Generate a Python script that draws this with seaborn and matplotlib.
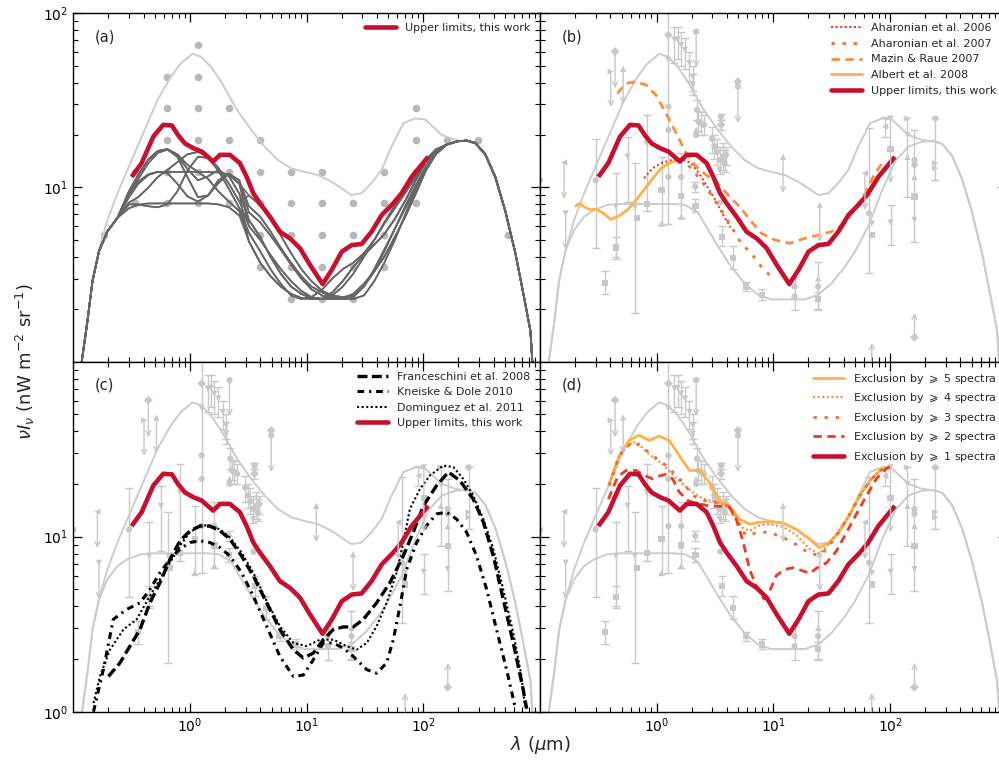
import numpy as np
import pandas as pd
import matplotlib
matplotlib.use('Agg')
import matplotlib.pyplot as plt
import seaborn as sns
from matplotlib.ticker import FixedLocator, LogLocator, LogFormatterSciNotation, NullFormatter
from matplotlib.lines import Line2D

sns.set_style('ticks')
plt.rcParams['font.family'] = ['DejaVu Sans']
plt.rcParams['mathtext.fontset'] = 'dejavusans'

# ---------------- data ----------------
# upper limits (this work)
red_lam = [0.316, 0.385, 0.485, 0.59, 0.70, 0.79, 0.906, 1.07, 1.26, 1.58, 1.81, 2.2, 2.68, 3.06,
           3.49, 3.98, 4.85, 5.9, 7.2, 8.77, 10.7, 13.7, 16.4, 20, 24.3, 29.6, 36, 44, 55.2, 65.2, 79.4, 110]
red_val = [11.5, 13.8, 19.6, 22.9, 22.7, 20.0, 17.9, 16.8, 16.1, 14.1, 15.4, 15.4, 13.8, 11.5,
           9.27, 8.11, 6.79, 5.57, 5.1, 4.48, 3.59, 2.79, 3.36, 4.28, 4.67, 4.74, 5.57, 6.95, 8.11, 9.27, 11.5, 15.0]

# envelopes
env_up_lam = [0.119, 0.132, 0.146, 0.166, 0.196, 0.239, 0.291, 0.355, 0.433, 0.527, 0.686, 0.836, 1.05, 1.24,
              1.51, 1.85, 2.25, 2.57, 3.35, 4.35, 5.67, 7.38, 9.6, 12.5, 16.3, 19.9, 24.2, 29.5, 36, 43.8,
              53.5, 67.4, 84.9, 103.5, 144, 187, 244, 280, 340, 414, 505, 615, 725, 828, 860]
env_up_val = [1.0, 1.66, 2.94, 4.4, 6.5, 9.27, 12.6, 17.2, 23.4, 31.8, 43.3, 51.6, 58.5, 56.4,
              49.4, 40.5, 32.0, 27.5, 21.4, 17.2, 14.4, 12.9, 12.3, 11.8, 10.8, 9.9, 9.06, 9.26, 10.6, 12.6,
              17.2, 23.4, 24.9, 24.6, 20.0, 18.8, 18.3, 17.8, 15.2, 11.2, 7.2, 4.2, 2.4, 1.5, 1.0]
env_lo_lam = [0.119, 0.132, 0.146, 0.166, 0.196, 0.239, 0.291, 0.379, 0.49, 0.715, 1.0, 1.38, 1.76, 2.25,
              2.57, 3.35, 4.35, 5.67, 7.38, 9.6, 12.5, 18.6, 24.2, 31.6, 41, 50.2, 65.2, 84.8, 111, 144,
              187, 236, 280, 340, 414, 505, 615, 725, 828, 860]
env_lo_val = [1.0, 1.66, 2.94, 4.38, 5.70, 6.81, 7.43, 7.94, 8.04, 8.04, 8.04, 8.04, 7.94, 7.2,
              6.2, 4.6, 3.5, 2.82, 2.42, 2.28, 2.28, 2.28, 2.42, 2.82, 3.5, 4.3, 6.0, 9.5, 14.2, 17.2,
              18.3, 18.5, 17.8, 15.2, 11.2, 7.2, 4.2, 2.4, 1.5, 1.0]

# panel (a): grid of test points
grid_lam = [0.185, 0.34, 0.63, 1.17, 2.16, 4.0, 7.35, 13.6, 25.1, 46.3, 86, 158, 292, 535]
grid_rows = [[5.34], [8.11, 12.3], [8.11, 12.3, 18.7, 28.5, 43.3], [8.11, 12.3, 18.7, 28.5, 43.3, 65.8],
             [8.11, 12.3, 18.7, 28.5], [3.51, 5.34, 8.11, 12.3, 18.7], [2.29, 3.51, 5.34, 8.11, 12.3],
             [2.29, 3.51, 5.34, 8.11, 12.3], [2.29, 3.51, 5.34, 8.11], [3.51, 5.34, 8.11, 12.3],
             [8.11, 12.3, 18.7, 28.5], [18.7], [18.7], [5.34]]

# panel (a): family of test EBL shapes (shared ends + NIR / MIR variants)
dark_left_lam = [0.118, 0.132, 0.146, 0.166, 0.196, 0.239]
dark_left_val = [1.0, 1.7, 2.9, 4.3, 5.6, 6.7]
nir_lam = [0.30, 0.36, 0.44, 0.53, 0.64, 0.78, 0.95, 1.17, 1.43, 1.75, 2.16, 2.65]
nir_variants = [
    [7.6, 7.95, 8.1, 8.1, 8.1, 8.1, 8.1, 8.1, 8.1, 8.0, 7.7, 6.9],
    [9.0, 10.8, 11.9, 12.3, 12.3, 12.3, 12.3, 12.3, 12.3, 12.2, 11.8, 10.5],
    [9.5, 11.8, 14.5, 16.2, 16.6, 15.0, 11.5, 8.8, 9.0, 11.0, 12.0, 10.5],
    [9.5, 11.8, 14.5, 16.2, 16.6, 15.5, 13.5, 12.3, 11.2, 9.5, 8.3, 7.3],
    [8.0, 8.0, 7.8, 7.7, 8.0, 9.5, 12.5, 15.0, 14.8, 12.5, 9.8, 7.6],
    [8.8, 10.5, 11.8, 12.3, 12.1, 10.5, 8.9, 8.3, 9.0, 10.6, 12.0, 11.0],
    [8.2, 8.8, 10.0, 11.5, 12.6, 14.0, 15.5, 16.0, 15.0, 13.0, 10.5, 8.3],
    [9.2, 11.2, 13.8, 15.8, 16.5, 15.2, 12.8, 11.0, 11.6, 12.6, 11.6, 9.2],
]
mir_lam = [3.2, 4.0, 4.9, 6.0, 7.35, 9.0, 11.0, 13.6, 16.6, 20.4, 25.1, 31, 38, 46.3, 57, 70, 86, 105, 128]
mir_variants = [
    [4.9, 3.7, 3.1, 2.7, 2.45, 2.32, 2.29, 2.29, 2.29, 2.31, 2.45, 2.8, 3.3, 4.0, 5.2, 6.8, 9.2, 12.5, 15.5],
    [6.0, 5.0, 4.1, 3.4, 2.9, 2.55, 2.35, 2.29, 2.4, 2.7, 3.2, 4.0, 5.0, 6.2, 7.6, 9.3, 11.5, 14.0, 16.3],
    [5.5, 4.3, 3.4, 2.8, 2.4, 2.29, 2.35, 2.6, 3.0, 3.4, 3.7, 4.2, 5.0, 6.3, 7.9, 9.8, 12.0, 14.5, 16.5],
    [7.2, 6.3, 5.3, 4.4, 3.6, 3.0, 2.6, 2.4, 2.3, 2.29, 2.35, 2.7, 3.4, 4.4, 5.8, 7.6, 10.0, 13.0, 15.8],
    [6.5, 5.2, 4.0, 3.2, 2.7, 2.45, 2.32, 2.29, 2.5, 2.9, 3.5, 4.1, 4.7, 5.4, 6.6, 8.4, 11.0, 14.0, 16.5],
    [7.8, 6.8, 5.6, 4.5, 3.7, 3.1, 2.7, 2.5, 2.35, 2.29, 2.29, 2.4, 2.9, 3.7, 5.0, 7.0, 9.8, 13.0, 15.8],
    [9.0, 7.9, 6.6, 5.3, 4.2, 3.4, 2.9, 2.55, 2.4, 2.35, 2.4, 2.7, 3.3, 4.3, 5.8, 7.8, 10.3, 13.2, 16.0],
]
dark_right_lam = [158, 195, 236, 280, 340, 414, 505, 615, 725, 828, 860]
dark_right_val = [17.6, 18.4, 18.6, 18.0, 15.5, 11.5, 7.3, 4.2, 2.4, 1.5, 1.0]
dark_pairs = [(0, 0), (1, 6), (2, 1), (3, 2), (4, 4), (5, 5), (6, 1), (1, 4), (2, 5), (3, 0),
              (4, 2), (5, 3), (0, 3), (6, 6), (7, 4), (7, 0)]

# panel (b) models
aha06_lam = [0.78, 0.92, 1.12, 1.37, 1.67, 1.97, 2.32, 2.74, 3.24, 3.69, 4.3]
aha06_val = [11.3, 12.9, 13.9, 14.4, 14.5, 13.8, 12.0, 10.0, 8.3, 7.0, 5.9]
aha07_lam = [1.6, 1.97, 2.40, 2.93, 3.57, 4.36, 5.31, 6.47, 7.89, 9.9]
aha07_val = [14.8, 12.9, 11.0, 9.06, 7.43, 5.96, 4.78, 4.19, 3.51, 3.01]
mazin_lam = [0.461, 0.545, 0.664, 0.81, 0.987, 1.2, 1.47, 1.79, 2.18, 2.66, 3.24, 4.08, 5.14, 6.69,
             7.89, 10.3, 13.8, 18.6, 24.2, 31.5, 41.0, 46.9, 61, 74.5, 87.7]
mazin_val = [34.7, 39.6, 40.5, 38.8, 33.9, 26.7, 20.5, 15.7, 13.2, 11.8, 10.8, 9.06, 7.76, 6.22,
             5.46, 5.0, 4.78, 5.11, 5.33, 5.58, 6.22, 7.11, 9.27, 12.1, 14.1]
albert_lam = [0.202, 0.219, 0.243, 0.27, 0.30, 0.343, 0.404, 0.477, 0.563, 0.686, 0.84, 1.09, 1.28, 1.56]
albert_val = [7.83, 8.1, 7.7, 7.45, 7.5, 7.2, 6.56, 6.87, 7.43, 8.67, 10.4, 12.9, 13.8, 14.4]

# panel (c) models
fra_lam = [0.20, 0.251, 0.306, 0.373, 0.454, 0.553, 0.675, 0.82, 1.0, 1.22, 1.48, 1.81, 2.2, 2.77, 3.49,
           4.54, 5.9, 7.69, 9.36, 11.4, 13.9, 16.9, 20.6, 25.1, 30.6, 39.8, 51.7, 67.3, 82, 100, 130, 164,
           206, 268, 327, 398, 484, 590, 719, 768]
fra_val = [1.59, 1.90, 2.37, 2.95, 4.19, 5.46, 7.43, 9.46, 10.8, 11.5, 11.5, 10.8, 9.68, 7.76, 5.96,
           4.19, 2.95, 2.26, 2.03, 2.16, 2.58, 2.95, 3.05, 3.05, 3.37, 4.19, 5.46, 7.76, 10.6, 15.0, 19.6, 23.4,
           20.9, 16.4, 12.1, 7.76, 4.39, 2.47, 1.33, 1.04]
kd_lam = [0.149, 0.181, 0.22, 0.286, 0.373, 0.454, 0.553, 0.675, 0.82, 1.0, 1.22, 1.48, 1.81, 2.2, 2.77,
          3.49, 4.54, 5.9, 7.69, 9.36, 11.4, 13.9, 16.9, 20.6, 25.1, 32.7, 39.8, 48.5, 55.3, 63.1, 72,
          87.7, 107, 130, 158, 193, 235, 286, 349, 424, 517, 610]
kd_val = [1.0, 1.74, 3.37, 3.84, 4.19, 5.0, 6.23, 7.43, 8.5, 9.27, 9.46, 9.27, 8.67, 7.76, 6.23,
          4.58, 3.08, 2.07, 1.59, 1.62, 1.98, 2.47, 2.47, 2.31, 2.07, 1.74, 1.66, 1.90, 2.58, 4.02, 6.52,
          9.27, 11.6, 13.5, 13.8, 12.6, 10.6, 7.76, 5.0, 2.95, 1.74, 1.07]
dom_lam = [0.149, 0.169, 0.206, 0.269, 0.349, 0.454, 0.553, 0.675, 0.82, 1.0, 1.22, 1.48, 1.81, 2.2, 2.77,
           3.49, 4.54, 5.9, 7.69, 10.0, 13.0, 16.9, 22, 26.8, 32.7, 39.8, 48.5, 59, 67.3, 76.7, 93.5, 114,
           148, 181, 220, 268, 327, 398, 484, 590, 695, 741]
dom_val = [1.12, 1.59, 2.26, 2.95, 3.37, 4.58, 5.71, 7.11, 8.87, 10.6, 11.6, 11.6, 11.0, 9.9, 8.12,
           6.23, 4.29, 3.08, 2.47, 2.37, 2.58, 2.58, 2.37, 2.26, 2.47, 3.08, 4.19, 6.23, 9.27, 14.4, 18.7, 22.4,
           25.5, 25.0, 21.4, 17.2, 12.6, 8.5, 5.0, 2.82, 1.59, 1.07]

# panel (d) exclusion curves
ex5_lam = [0.392, 0.478, 0.581, 0.708, 0.865, 1.05, 1.28, 1.56, 1.91, 2.32, 2.83, 3.45, 4.21, 5.13, 6.25,
           7.62, 9.29, 12.1, 15.8, 20.5, 24.7, 30.5, 37.1, 45.3, 55.2, 67.3, 82, 100]
ex5_val = [20.0, 29.1, 35.5, 38.0, 35.5, 37.6, 35.5, 29.1, 23.9, 23.9, 20.5, 16.1, 15.0, 12.6, 11.8,
           12.1, 12.2, 12.0, 11.0, 9.68, 8.67, 9.27, 10.8, 13.5, 17.2, 20.9, 23.9, 25.0]
ex4_lam = [0.392, 0.478, 0.62, 0.70, 0.865, 1.12, 1.47, 1.91, 2.48, 3.24, 4.08, 4.8, 5.48, 6.25, 7.62,
           9.29, 12.1, 15.8, 20.5, 24.7, 28.6, 34.8, 45.3, 55.2, 67.3, 82, 100]
ex4_val = [20.0, 29.1, 35.0, 34.0, 29.5, 26.0, 21.5, 18.5, 16.5, 15.8, 15.0, 13.0, 11.2, 10.8, 11.6,
           11.8, 11.4, 10.2, 8.5, 8.0, 8.8, 10.4, 13.5, 17.2, 20.9, 23.9, 25.0]
ex3_lam = [0.392, 0.478, 0.62, 0.757, 0.923, 1.12, 1.37, 1.67, 2.04, 2.48, 3.24, 4.08, 4.8, 5.48, 6.25,
           7.14, 9.29, 12.1, 15.8, 20.5, 24.7, 28.6, 34.8, 45.3, 55.2, 67.3, 82, 100]
ex3_val = [19.6, 29.1, 35.0, 32.5, 29.0, 26.7, 23.4, 20.5, 17.2, 16.1, 15.7, 15.0, 12.6, 10.6, 10.1,
           10.6, 10.6, 9.9, 9.0, 8.0, 7.84, 8.5, 10.1, 13.5, 17.2, 20.9, 23.9, 25.0]
ex2_lam = [0.386, 0.461, 0.545, 0.664, 0.809, 0.923, 1.09, 1.20, 1.37, 1.56, 1.85, 2.18, 2.83, 3.69, 4.21,
           4.8, 5.48, 6.25, 7.14, 8.3, 9.3, 10.6, 12.5, 14.8, 18.0, 20.5, 23.4, 28.6, 34.8, 42.4, 51.6, 63.0,
           76.7, 93.6, 100]
ex2_val = [16.4, 21.9, 23.9, 23.9, 22.2, 21.4, 22.4, 22.7, 21.4, 18.0, 16.1, 15.5, 15.0, 14.9, 14.7,
           12.6, 9.5, 6.51, 5.22, 4.4, 4.9, 6.0, 6.5, 6.65, 6.37, 6.18, 6.6, 7.1, 8.3, 10.6, 13.5, 17.2,
           21.5, 24.6, 25.0]

# EBL measurements: points with error bars (lam, value, low, high, marker)
pt_lam = [0.30, 0.361, 0.447, 0.447, 0.563, 0.65, 0.82, 1.10, 1.26, 1.42, 1.51, 1.62, 1.75, 1.91, 2.04,
          1.62, 2.04, 2.22, 2.28, 2.40, 2.54, 2.14, 2.15, 2.97, 3.13, 3.30, 3.46, 3.57, 3.57, 3.69, 3.82,
          3.94, 3.62, 4.5, 5.86, 8.04, 15.2, 24.2, 24.2, 66.0, 90.8, 101.0, 141.0, 162.0, 244.0]
pt_val = [11.0, 2.84, 7.76, 4.53, 15.0, 7.76, 17.9, 9.7, 21.4, 70.4, 70.8, 65.8, 61.6, 51.6, 43.3,
          11.5, 38.8, 27.9, 23.9, 23.4, 22.9, 10.1, 7.83, 19.1, 17.2, 16.0, 14.4, 25.5, 22.9, 15.0, 13.8,
          15.4, 5.22, 3.93, 2.70, 2.42, 2.37, 2.70, 2.28, 7.1, 22.3, 6.3, 20.0, 14.4, 13.8]
pt_lo = [4.5, 2.45, 4.0, 3.9, 8.3, 1.9, 7.3, 6.1, 6.2, 51.6, 55.0, 50.0, 48.0, 41.0, 36.0,
         6.65, 34.0, 24.5, 21.0, 20.0, 20.0, 9.4, 7.2, 15.8, 14.5, 13.5, 12.0, 24.5, 21.5, 12.6, 12.3,
         13.5, 4.6, 3.4, 2.55, 2.27, 1.98, 1.98, 2.0, 3.21, 19.5, 4.68, 8.87, 4.89, 11.0]
pt_hi = [19.1, 3.3, 12.1, 5.2, 19.6, 13.8, 26.1, 15.0, 110, 83.8, 83.8, 78.0, 72.0, 60.0, 50.0,
         15.7, 45.0, 32.0, 27.5, 27.0, 26.0, 10.8, 8.6, 22.3, 20.0, 19.0, 17.0, 26.5, 24.5, 17.9, 16.5,
         17.0, 6.0, 4.6, 2.85, 2.60, 3.07, 3.75, 2.5, 21.9, 25.5, 7.94, 24.9, 21.4, 24.9]
pt_mark = ['o', 's', 'v', 's', 'v', 'v', 'v', 's', 'o', 'v', 'v', 'v', 'v', 'v', 'v',
           'o', 'v', 'o', 'o', 'o', 'o', 'o', 's', 'o', 'o', 'o', 'o', 'o', 'D', 'o', 'o',
           'o', 's', 's', 's', 's', 'o', 'o', 's', 'o', '<', 'v', 'v', 'o', '>']

# extra measurement markers without bars
mk_lam = [0.1, 0.673, 0.82, 1.10, 1.26, 1.26, 1.26, 1.26, 1.62, 1.62, 2.18, 2.18, 3.46, 3.52, 4.97,
          15.2, 24.2, 69.7, 69.7, 101.0, 141.0, 141.0, 162.0, 162.0, 162.0, 162.0, 244.0, 244.0]
mk_val = [11.0, 6.65, 8.04, 6.2, 75.0, 54.0, 29.1, 11.5, 8.9, 6.8, 21.4, 20.0, 12.6, 8.2, 37.9,
          2.70, 3.01, 6.2, 5.33, 16.6, 24.9, 15.0, 13.5, 11.5, 8.87, 6.52, 24.9, 12.9]
mk_mark = ['o', 's', 's', '^', 'D', 'v', 'o', 'o', 's', '^', '^', 'o', 'v', 'o', 'o',
           'o', '^', 'v', 's', 's', '>', '^', 'o', '^', 's', 'v', 'o', '>']

# limits (lam, start value, arrow tip value, marker)
lim_lam = [0.161, 0.166, 0.404, 0.44, 0.516, 2.18, 4.97, 12.1, 25.0, 61.0, 69.7, 162.0, 101.0]
lim_from = [13.9, 7.1, 46.3, 60.3, 48.0, 78.5, 40.5, 15.0, 7.94, 12.1, 1.0, 1.38, 24.9]
lim_to = [8.6, 4.4, 29.0, 37.0, 30.0, 49.0, 23.4, 9.3, 4.89, 7.43, 1.28, 1.90, 10.6]
lim_mark = ['<', 'v', '>', 'D', '^', 'o', 'D', '^', '^', '<', None, 'D', 'v']

# ---------------- styles ----------------
RED = '#c8102e'
ENV = '#cccccc'
PT = '#c8c8c8'
DOT = '#b8b8b8'
DARK = '#666666'
C_AHA06 = '#f03b20'
C_AHA07 = '#f46d2a'
C_MAZIN = '#fd8d3c'
C_ALBERT = '#feb24c'
MARKERS = {m: m for m in ['o', 's', 'v', '^', 'D', '<', '>']}

ST_FINE = (0, (1, 1.2))
ST_SPARSE = (0, (1.2, 2.8))
ST_DASH = (0, (3, 2))
ST_FRA = (0, (3, 1.3))
ST_KD = (0, (2.2, 1.6, 0.7, 1.6))

fig = plt.figure(figsize=(9.99, 7.62), dpi=100)
W = 466.7 / 999
axA = fig.add_axes([73.3 / 999, 0.52533, W, 0.45722])
axB = fig.add_axes([540 / 999, 0.52533, W, 0.45722])
axC = fig.add_axes([73.3 / 999, 0.06601, W, 0.45932])
axD = fig.add_axes([540 / 999, 0.06601, W, 0.45932])


def setup(ax, row, col):
    ax.set_xscale('log')
    ax.set_yscale('log')
    ax.set_xlim(0.1, 1000)
    ax.set_ylim(1, 100)
    ax.xaxis.set_major_locator(FixedLocator([1, 10, 100]))
    ax.xaxis.set_minor_locator(LogLocator(base=10, subs=np.arange(2, 10), numticks=30))
    ax.xaxis.set_major_formatter(LogFormatterSciNotation())
    ax.xaxis.set_minor_formatter(NullFormatter())
    ax.yaxis.set_major_locator(FixedLocator([10, 100] if row == 0 else [1, 10]))
    ax.yaxis.set_minor_locator(LogLocator(base=10, subs=np.arange(2, 10), numticks=30))
    ax.yaxis.set_major_formatter(LogFormatterSciNotation())
    ax.yaxis.set_minor_formatter(NullFormatter())
    ax.tick_params(which='both', direction='in', top=True, right=True, labelsize=10, colors='black')
    ax.tick_params(which='major', length=6.5, width=0.9)
    ax.tick_params(which='minor', length=3.5, width=0.8)
    if row == 0:
        ax.tick_params(labelbottom=False)
    if col == 1:
        ax.tick_params(labelleft=False)
    for s in ax.spines.values():
        s.set_linewidth(1.0)
        s.set_color('black')


def line(ax, lam, val, **kw):
    sns.lineplot(x=lam, y=val, ax=ax, sort=False, estimator=None, legend=False, **kw)


def envelopes(ax):
    line(ax, env_up_lam, env_up_val, color=ENV, linewidth=1.4)
    line(ax, env_lo_lam, env_lo_val, color=ENV, linewidth=1.4)


def measurements(ax):
    lam = np.array(pt_lam)
    val = np.array(pt_val)
    err = [val - np.array(pt_lo), np.array(pt_hi) - val]
    ax.errorbar(lam, val, yerr=err, fmt='none', ecolor=PT, elinewidth=1.0, capsize=3, capthick=1.0)
    dfp = pd.DataFrame({'lam': pt_lam + mk_lam, 'val': pt_val + mk_val, 'm': pt_mark + mk_mark})
    sns.scatterplot(data=dfp, x='lam', y='val', style='m', markers=MARKERS, color=PT, s=20,
                    linewidth=0, ax=ax, legend=False)
    for l, a, b, m in zip(lim_lam, lim_from, lim_to, lim_mark):
        ax.annotate('', xy=(l, b), xytext=(l, a),
                    arrowprops=dict(arrowstyle='->', color=PT, lw=1.0, shrinkA=0, shrinkB=0,
                                    mutation_scale=9))
    dfl = pd.DataFrame({'lam': [l for l, m in zip(lim_lam, lim_mark) if m],
                        'val': [v for v, m in zip(lim_from, lim_mark) if m],
                        'm': [m for m in lim_mark if m]})
    sns.scatterplot(data=dfl, x='lam', y='val', style='m', markers=MARKERS, color=PT, s=20,
                    linewidth=0, ax=ax, legend=False)


def red_line(ax):
    line(ax, red_lam, red_val, color=RED, linewidth=3.3, solid_capstyle='butt')


def legend(ax, handles, labels):
    ax.legend(handles, labels, loc='upper right', frameon=False, fontsize=8, handlelength=2.8,
              handletextpad=0.8, borderaxespad=0.5, labelspacing=0.5)


red_h = Line2D([], [], color=RED, lw=3.3)

# ---- panel (a)
setup(axA, 0, 0)
line(axA, env_up_lam, env_up_val, color=ENV, linewidth=1.4)
gl, gv = [], []
for l, rowv in zip(grid_lam, grid_rows):
    for v in rowv:
        gl.append(l)
        gv.append(v)
sns.scatterplot(x=gl, y=gv, color=DOT, s=30, linewidth=0, ax=axA, legend=False)
rows = []
for cid, (ni, mi) in enumerate(dark_pairs):
    lam = dark_left_lam + nir_lam + mir_lam + dark_right_lam
    val = dark_left_val + nir_variants[ni] + mir_variants[mi] + dark_right_val
    rows += [(cid, l, v) for l, v in zip(lam, val)]
df_dark = pd.DataFrame(rows, columns=['curve', 'lam', 'val'])
sns.lineplot(data=df_dark, x='lam', y='val', units='curve', estimator=None, sort=False,
             color=DARK, linewidth=1.2, ax=axA, legend=False)
red_line(axA)
legend(axA, [red_h], ['Upper limits, this work'])
axA.text(0.047, 0.932, '(a)', transform=axA.transAxes, fontsize=10.5, va='center', ha='left')

# ---- panel (b)
setup(axB, 0, 1)
envelopes(axB)
measurements(axB)
line(axB, aha06_lam, aha06_val, color=C_AHA06, linewidth=1.5, linestyle=ST_FINE)
line(axB, aha07_lam, aha07_val, color=C_AHA07, linewidth=2.0, linestyle=ST_SPARSE)
line(axB, mazin_lam, mazin_val, color=C_MAZIN, linewidth=2.0, linestyle=ST_DASH)
line(axB, albert_lam, albert_val, color=C_ALBERT, linewidth=2.0)
red_line(axB)
legend(axB, [Line2D([], [], color=C_AHA06, lw=1.5, ls=ST_FINE),
             Line2D([], [], color=C_AHA07, lw=2.0, ls=ST_SPARSE),
             Line2D([], [], color=C_MAZIN, lw=2.0, ls=ST_DASH),
             Line2D([], [], color=C_ALBERT, lw=2.0), red_h],
       ['Aharonian et al. 2006', 'Aharonian et al. 2007', 'Mazin & Raue 2007',
        'Albert et al. 2008', 'Upper limits, this work'])
axB.text(0.047, 0.932, '(b)', transform=axB.transAxes, fontsize=10.5, va='center', ha='left')

# ---- panel (c)
setup(axC, 1, 0)
envelopes(axC)
measurements(axC)
line(axC, fra_lam, fra_val, color='black', linewidth=2.4, linestyle=ST_FRA)
line(axC, kd_lam, kd_val, color='black', linewidth=2.2, linestyle=ST_KD)
line(axC, dom_lam, dom_val, color='black', linewidth=1.5, linestyle=ST_FINE)
red_line(axC)
legend(axC, [Line2D([], [], color='black', lw=2.4, ls=ST_FRA),
             Line2D([], [], color='black', lw=2.2, ls=ST_KD),
             Line2D([], [], color='black', lw=1.5, ls=ST_FINE), red_h],
       ['Franceschini et al. 2008', 'Kneiske & Dole 2010', 'Dominguez et al. 2011',
        'Upper limits, this work'])
axC.text(0.047, 0.932, '(c)', transform=axC.transAxes, fontsize=10.5, va='center', ha='left')

# ---- panel (d)
setup(axD, 1, 1)
envelopes(axD)
measurements(axD)
line(axD, ex5_lam, ex5_val, color=C_ALBERT, linewidth=2.0)
line(axD, ex4_lam, ex4_val, color=C_MAZIN, linewidth=1.5, linestyle=ST_FINE)
line(axD, ex3_lam, ex3_val, color=C_AHA07, linewidth=2.0, linestyle=ST_SPARSE)
line(axD, ex2_lam, ex2_val, color=C_AHA06, linewidth=2.0, linestyle=ST_DASH)
red_line(axD)
legend(axD, [Line2D([], [], color=C_ALBERT, lw=2.0),
             Line2D([], [], color=C_MAZIN, lw=1.5, ls=ST_FINE),
             Line2D([], [], color=C_AHA07, lw=2.0, ls=ST_SPARSE),
             Line2D([], [], color=C_AHA06, lw=2.0, ls=ST_DASH), red_h],
       [r'Exclusion by $\geqslant$ 5 spectra', r'Exclusion by $\geqslant$ 4 spectra',
        r'Exclusion by $\geqslant$ 3 spectra', r'Exclusion by $\geqslant$ 2 spectra',
        r'Exclusion by $\geqslant$ 1 spectra'])
axD.text(0.047, 0.932, '(d)', transform=axD.transAxes, fontsize=10.5, va='center', ha='left')

for ax in (axA, axB, axC, axD):
    ax.set_xlabel('')
    ax.set_ylabel('')

fig.text(0.025, 0.525, r'$\nu I_\nu$ (nW m$^{-2}$ sr$^{-1}$)', rotation=90, va='center', ha='center',
         fontsize=13)
fig.text(0.5405, 0.022, r'$\lambda$ ($\mu$m)', va='center', ha='center', fontsize=13)

fig.savefig('out.png', dpi=100)
